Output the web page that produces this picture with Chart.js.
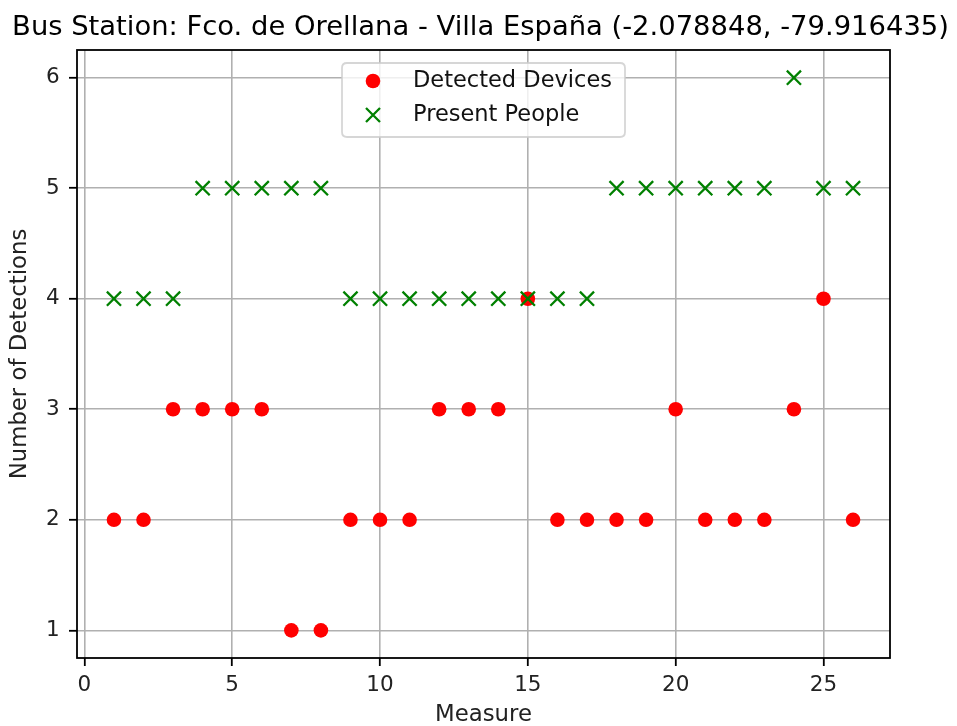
<!DOCTYPE html>
<html>
<head>
<meta charset="utf-8">
<script src="https://cdn.jsdelivr.net/npm/chart.js@4/dist/chart.umd.min.js"></script>
<style>
  html, body { margin: 0; padding: 0; background: #fff; }
  #wrap { width: 957px; height: 726px; }
</style>
</head>
<body>
<div id="wrap"><canvas id="c" width="957" height="726"></canvas></div>
<script>
// Measurement index and counts per measurement
const measures = [1,2,3,4,5,6,7,8,9,10,11,12,13,14,15,16,17,18,19,20,21,22,23,24,25,26];
const detectedDevices = [2,2,3,3,3,3,1,1,2,2,2,3,3,3,4,2,2,2,2,3,2,2,2,3,4,2];
const presentPeople   = [4,4,4,5,5,5,5,5,4,4,4,4,4,4,4,4,4,5,5,5,5,5,5,6,5,5];

const xTicks = [0,5,10,15,20,25];
const yTicks = [1,2,3,4,5,6];

const titleText = 'Bus Station: Fco. de Orellana - Villa España (-2.078848, -79.916435)';
const seriesNames = ['Detected Devices', 'Present People'];

const FONT = 'DejaVu Sans';
const TICK_FS = 21.5;
const LABEL_FS = 22.8;
const LEGEND_FS = 22.5;
const TITLE_FS = 27.4;
const RED = '#ff0000';
const GREEN = '#008000';

const toPoints = ys => measures.map((m, i) => ({ x: m, y: ys[i] }));

// Title, axes frame and legend box
const decorations = {
  id: 'decorations',
  afterDatasetsDraw(chart) {
    const ctx = chart.ctx;
    const a = chart.chartArea;
    ctx.save();
    ctx.strokeStyle = '#000';
    ctx.lineWidth = 1.8;
    ctx.strokeRect(a.left, a.top, a.right - a.left, a.bottom - a.top);
    ctx.restore();
  },
  afterDraw(chart) {
    const ctx = chart.ctx;
    const a = chart.chartArea;
    ctx.save();
    // title
    ctx.fillStyle = '#000';
    ctx.font = `${TITLE_FS}px "${FONT}"`;
    ctx.textAlign = 'center';
    ctx.textBaseline = 'middle';
    ctx.fillText(titleText, (a.left + a.right) / 2 - 3, 28);

    // legend
    const bx = 342, by = 63, bw = 283, bh = 74, r = 5;
    ctx.beginPath();
    ctx.moveTo(bx + r, by);
    ctx.lineTo(bx + bw - r, by);
    ctx.quadraticCurveTo(bx + bw, by, bx + bw, by + r);
    ctx.lineTo(bx + bw, by + bh - r);
    ctx.quadraticCurveTo(bx + bw, by + bh, bx + bw - r, by + bh);
    ctx.lineTo(bx + r, by + bh);
    ctx.quadraticCurveTo(bx, by + bh, bx, by + bh - r);
    ctx.lineTo(bx, by + r);
    ctx.quadraticCurveTo(bx, by, bx + r, by);
    ctx.closePath();
    ctx.fillStyle = 'rgba(255,255,255,0.8)';
    ctx.fill();
    ctx.strokeStyle = 'rgba(204,204,204,0.8)';
    ctx.lineWidth = 1.8;
    ctx.stroke();

    const mx = 373, rows = [81, 115];
    ctx.fillStyle = RED;
    ctx.beginPath();
    ctx.arc(mx, rows[0], 7.3, 0, Math.PI * 2);
    ctx.fill();
    ctx.strokeStyle = GREEN;
    ctx.lineWidth = 2.3;
    const h = 7;
    ctx.beginPath();
    ctx.moveTo(mx - h, rows[1] - h); ctx.lineTo(mx + h, rows[1] + h);
    ctx.moveTo(mx - h, rows[1] + h); ctx.lineTo(mx + h, rows[1] - h);
    ctx.stroke();

    ctx.fillStyle = '#111';
    ctx.font = `${LEGEND_FS}px "${FONT}"`;
    ctx.textAlign = 'left';
    ctx.textBaseline = 'middle';
    ctx.fillText(seriesNames[0], 413, rows[0]);
    ctx.fillText(seriesNames[1], 413, rows[1]);
    ctx.restore();
  }
};

new Chart(document.getElementById('c'), {
  type: 'scatter',
  data: {
    datasets: [
      {
        label: seriesNames[0],
        data: toPoints(detectedDevices),
        pointStyle: 'circle',
        pointRadius: 7.3,
        pointBackgroundColor: RED,
        pointBorderColor: RED,
        pointBorderWidth: 0,
        order: 2
      },
      {
        label: seriesNames[1],
        data: toPoints(presentPeople),
        pointStyle: 'crossRot',
        pointRadius: 10,
        pointBackgroundColor: GREEN,
        pointBorderColor: GREEN,
        pointBorderWidth: 2.3,
        order: 1
      }
    ]
  },
  options: {
    responsive: false,
    animation: false,
    devicePixelRatio: 1,
    layout: { padding: { left: 0, top: 50, right: 67, bottom: 0 } },
    plugins: {
      legend: { display: false },
      title: { display: false },
      tooltip: { enabled: false }
    },
    scales: {
      x: {
        type: 'linear',
        min: -0.25,
        max: 27.25,
        afterBuildTicks: s => { s.ticks = xTicks.map(v => ({ value: v })); },
        afterFit: s => { s.height = 68; },
        grid: {
          color: '#b0b0b0',
          lineWidth: 1.6,
          tickColor: '#000',
          tickLength: 8,
          tickWidth: 1.8
        },
        border: { display: false },
        ticks: {
          color: '#222',
          font: { family: FONT, size: TICK_FS },
          padding: 7,
          maxRotation: 0,
          autoSkip: false
        },
        title: {
          display: true,
          text: 'Measure',
          color: '#222',
          font: { family: FONT, size: LABEL_FS, lineHeight: 1 },
          padding: { top: 0, bottom: 0 }
        }
      },
      y: {
        type: 'linear',
        min: 0.75,
        max: 6.25,
        afterBuildTicks: s => { s.ticks = yTicks.map(v => ({ value: v })); },
        afterFit: s => { s.width = 77; },
        grid: {
          color: '#b0b0b0',
          lineWidth: 1.6,
          tickColor: '#000',
          tickLength: 8,
          tickWidth: 1.8
        },
        border: { display: false },
        ticks: {
          color: '#222',
          font: { family: FONT, size: TICK_FS },
          padding: 9.4,
          autoSkip: false
        },
        title: {
          display: true,
          text: 'Number of Detections',
          color: '#222',
          font: { family: FONT, size: LABEL_FS, lineHeight: 1 },
          padding: { top: 8.6, bottom: 0 }
        }
      }
    }
  },
  plugins: [decorations]
});
</script>
</body>
</html>
